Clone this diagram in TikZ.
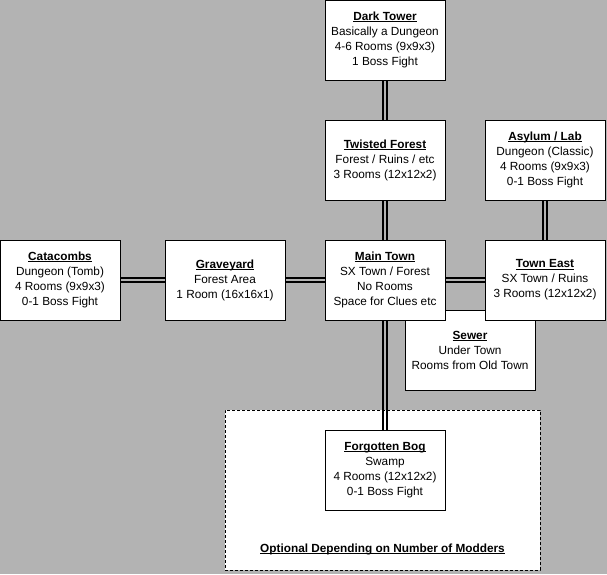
\documentclass[tikz,border=0pt]{standalone}
\usepackage{fontspec}
\setmainfont{Liberation Sans}
\newcommand\roomtitle[1]{\setbox0\hbox{\bfseries #1}\rlap{\rule[-1.7pt]{\wd0}{0.8pt}}\box0}
\definecolor{bggray}{RGB}{179,179,179}
\begin{document}
\begin{tikzpicture}[x=1pt,y=-1pt,
  room/.style={draw=black,line width=1pt,fill=white,minimum width=120pt,minimum height=80pt,align=center,inner sep=0pt,font=\fontsize{11.8}{15}\selectfont},
  optbox/.style={draw=black,line width=1pt,dash pattern=on 3pt off 2pt,fill=white,minimum width=315pt,minimum height=160pt,inner sep=0pt},
  lbl/.style={font=\fontsize{11.8}{15}\selectfont,inner sep=0pt},
  link/.style={line width=2pt,draw=black}]
\fill[bggray] (0,0) rectangle (607,574);
\useasboundingbox (0,0) rectangle (607,574);
\node[optbox] (optional) at (382.5,490) {};
\node[lbl] (optlabel) at (382.5,549) {\roomtitle{Optional Depending on Number of Modders}};
\node[room,minimum width=130pt] (sewer) at (470,350) {\roomtitle{Sewer}\\Under Town\\Rooms from Old Town};
\node[room] (dark) at (385,40) {\roomtitle{Dark Tower}\\Basically a Dungeon\\4-6 Rooms (9x9x3)\\1 Boss Fight};
\node[room] (twisted) at (385,160) {\roomtitle{Twisted Forest}\\Forest / Ruins / etc\\3 Rooms (12x12x2)};
\node[room] (asylum) at (545,160) {\roomtitle{Asylum / Lab}\\Dungeon (Classic)\\4 Rooms (9x9x3)\\0-1 Boss Fight};
\node[room] (catacombs) at (60,280) {\roomtitle{Catacombs}\\Dungeon (Tomb)\\4 Rooms (9x9x3)\\0-1 Boss Fight};
\node[room] (graveyard) at (225,280) {\roomtitle{Graveyard}\\Forest Area\\1 Room (16x16x1)};
\node[room] (main) at (385,280) {\roomtitle{Main Town}\\SX Town / Forest\\No Rooms\\Space for Clues etc};
\node[room] (east) at (545,280) {\roomtitle{Town East}\\SX Town / Ruins\\3 Rooms (12x12x2)};
\node[room] (bog) at (385,470) {\roomtitle{Forgotten Bog}\\Swamp\\4 Rooms (12x12x2)\\0-1 Boss Fight};
\foreach \s in {-2.2pt,2.2pt} {
  \draw[link] ([xshift=\s]dark.south) -- ([xshift=\s]twisted.north);
  \draw[link] ([xshift=\s]twisted.south) -- ([xshift=\s]main.north);
  \draw[link] ([xshift=\s]main.south) -- ([xshift=\s]bog.north);
  \draw[link] ([xshift=\s]asylum.south) -- ([xshift=\s]east.north);
  \draw[link] ([yshift=\s]catacombs.east) -- ([yshift=\s]graveyard.west);
  \draw[link] ([yshift=\s]graveyard.east) -- ([yshift=\s]main.west);
  \draw[link] ([yshift=\s]main.east) -- ([yshift=\s]east.west);
}
\end{tikzpicture}
\end{document}
